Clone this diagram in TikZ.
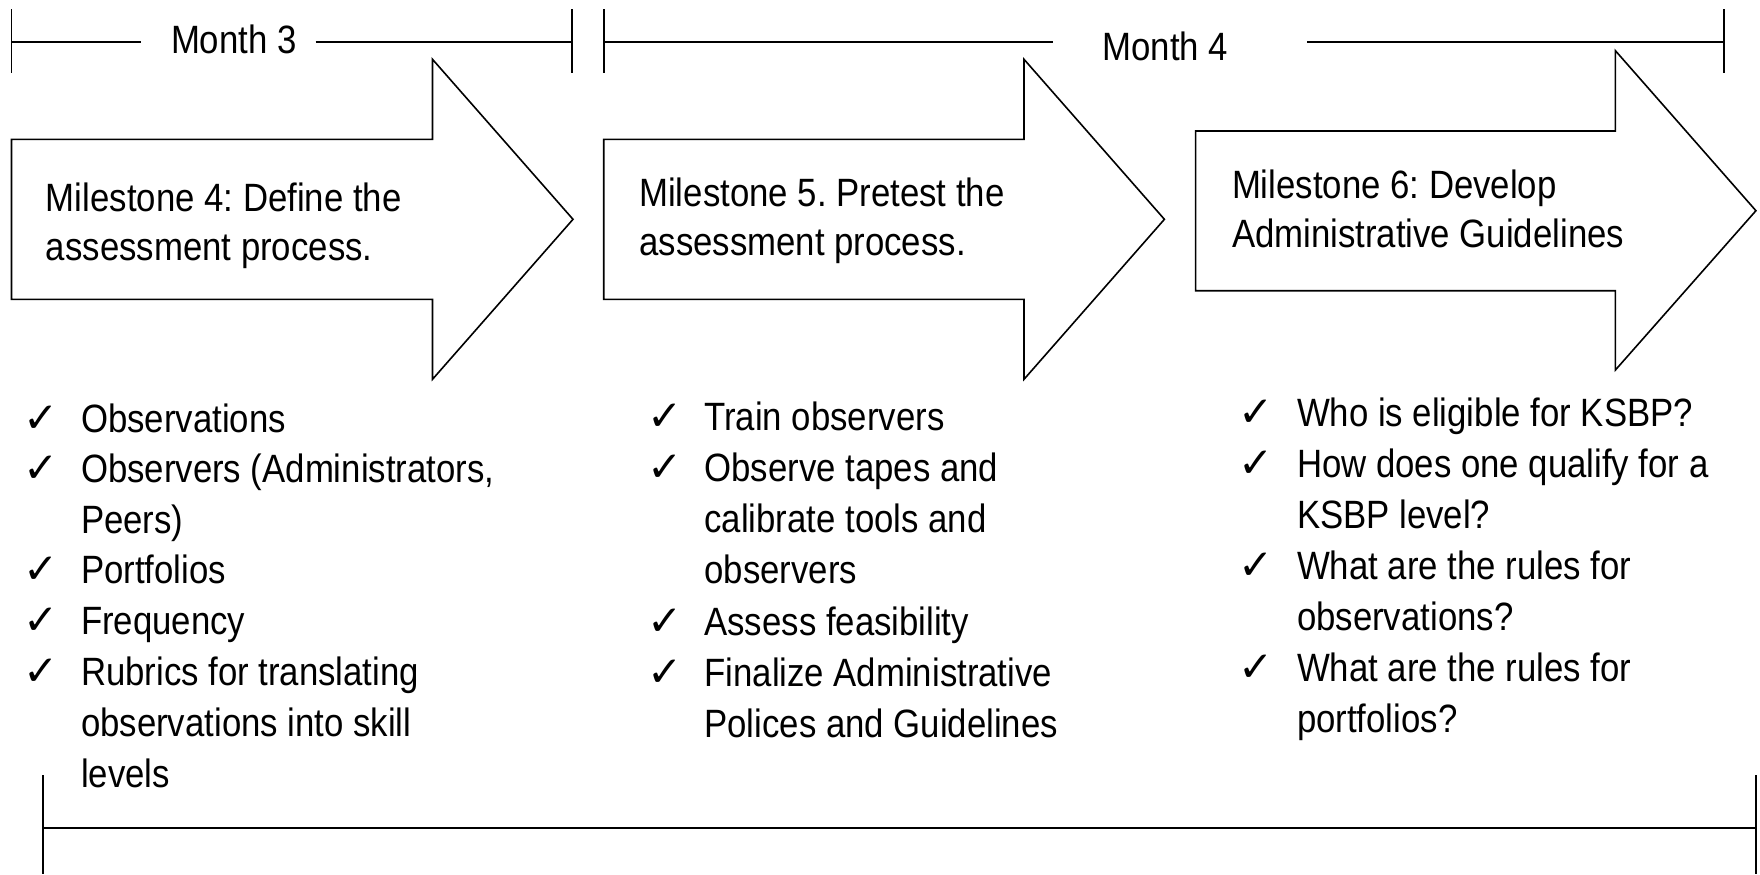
\documentclass[tikz,border=0pt]{standalone}
\usepackage{fontspec}
\setmainfont{Liberation Sans}[FakeStretch=0.88]
\newfontfamily\symfont{DejaVu Sans}
\frenchspacing
\begin{document}
\begin{tikzpicture}[x=0.5pt,y=-0.5pt,
  ln/.style={line width=0.9pt, draw=black},
  arr/.style={draw=black, line width=0.8pt, fill=white, line join=miter},
  ttl/.style={anchor=base west, inner sep=0pt, outer sep=0pt, font=\fontsize{19.75}{24.8}\selectfont},
  itm/.style={anchor=base west, inner sep=0pt, outer sep=0pt, font=\fontsize{19.75}{25.5}\selectfont},
  chk/.style={anchor=base west, inner sep=0pt, outer sep=0pt, font=\symfont\fontsize{21}{21}\selectfont},
]
\useasboundingbox (0,0) rectangle (1760,874);

% ---- Month 3 bracket
\draw[ln] (11.5,9.3) -- (11.5,73.3);
\draw[ln] (572,9.3) -- (572,73.3);
\draw[ln] (11.5,41.7) -- (140.5,41.7);
\draw[ln] (315.7,41.7) -- (572,41.7);
\node[ttl] (m3) at (171,53.3) {Month 3};

% ---- Month 4 bracket
\draw[ln] (603.7,9.3) -- (603.7,73.3);
\draw[ln] (1723.7,9.3) -- (1723.7,73.3);
\draw[ln] (603.7,41.7) -- (1052.6,41.7);
\draw[ln] (1307,41.7) -- (1723.7,41.7);
\node[ttl] (m4) at (1102.4,60) {Month 4};

% ---- Arrows
\draw[arr] (11.5,139.3) -- (432.5,139.3) -- (432.5,59.3) -- (573,219.3) -- (432.5,379.3) -- (432.5,299.3) -- (11.5,299.3) -- cycle;
\draw[arr] (603.7,139.3) -- (1024,139.3) -- (1024,59.3) -- (1164.4,219.3) -- (1024,379.3) -- (1024,299.3) -- (603.7,299.3) -- cycle;
\draw[arr] (1195.6,131) -- (1615.4,131) -- (1615.4,50.7) -- (1755.9,210.7) -- (1615.4,370) -- (1615.4,290.7) -- (1195.6,290.7) -- cycle;

\node[ttl] (ms4) at (46,211) {\parbox[t]{12cm}{\raggedright Milestone 4: Define the\\assessment process.}};
\node[ttl] (ms5) at (639.3,206) {\parbox[t]{12cm}{\raggedright Milestone 5. Pretest the\\assessment process.}};
\node[ttl] (ms6) at (1232,198) {\parbox[t]{12cm}{\raggedright Milestone 6: Develop\\Administrative Guidelines}};

% ---- List 1
\foreach \i/\b in {a/432, b/482.9, c/583.6, d/634.5, e/685.4}
  \node[chk] (c1\i) at (24,\b) {✓};
\node[itm] (l1a) at (81,432) {Observations};
\node[itm] (l1b) at (81,482.9) {\parbox[t]{12cm}{\raggedright Observers (Administrators,\\Peers)}};
\node[itm] (l1c) at (81,583.6) {Portfolios};
\node[itm] (l1d) at (81,634.5) {Frequency};
\node[itm] (l1e) at (81,685.4) {\parbox[t]{12cm}{\raggedright Rubrics for translating\\observations into skill\\levels}};

% ---- List 2
\foreach \i/\b in {a/430, b/481.3, c/635.2, d/686.5}
  \node[chk] (c2\i) at (647,\b) {✓};
\node[itm] (l2a) at (704.4,430) {Train observers};
\node[itm] (l2b) at (704.4,481.3) {\parbox[t]{12cm}{\raggedright Observe tapes and\\calibrate tools and\\observers}};
\node[itm] (l2c) at (704.4,635.2) {Assess feasibility};
\node[itm] (l2d) at (704.4,686.5) {\parbox[t]{12cm}{\raggedright Finalize Administrative\\Polices and Guidelines}};

% ---- List 3
\foreach \i/\b in {a/426.7, b/477.7, c/579.7, d/681.7}
  \node[chk] (c3\i) at (1238,\b) {✓};
\node[itm] (l3a) at (1297,426.7) {Who is eligible for KSBP?};
\node[itm] (l3b) at (1297,477.7) {\parbox[t]{12cm}{\raggedright How does one qualify for a\\KSBP level?}};
\node[itm] (l3c) at (1297,579.7) {\parbox[t]{12cm}{\raggedright What are the rules for\\observations?}};
\node[itm] (l3d) at (1297,681.7) {\parbox[t]{12cm}{\raggedright What are the rules for\\portfolios?}};

% ---- Bottom bracket
\draw[ln] (43.2,775) -- (43.2,874);
\draw[ln] (1755.9,775) -- (1755.9,874);
\draw[ln] (43.2,828.3) -- (1755.9,828.3);
\end{tikzpicture}
\end{document}
